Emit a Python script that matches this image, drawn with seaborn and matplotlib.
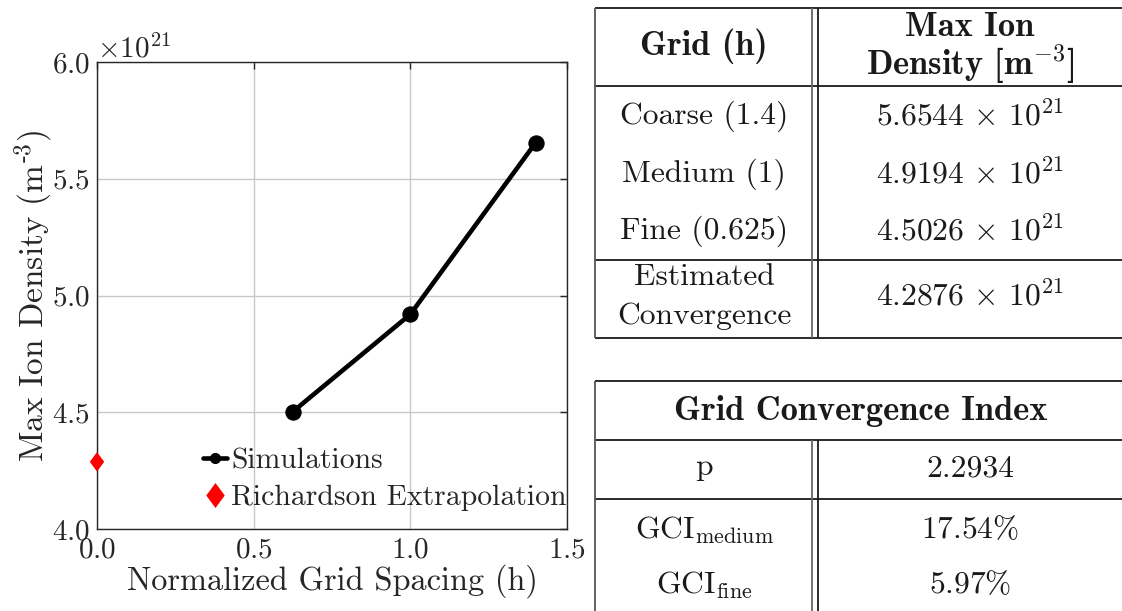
import matplotlib
matplotlib.use("Agg")
import matplotlib.pyplot as plt
from matplotlib.lines import Line2D
from matplotlib.path import Path
import seaborn as sns
import pandas as pd

# Grid study results
grid_names = ["Coarse (1.4)", "Medium (1)", "Fine (0.625)"]
grid_h = [1.4, 1.0, 0.625]
max_ion_density = [5.6544e21, 4.9194e21, 4.5026e21]

# Richardson extrapolation (h -> 0)
extrap_h = [0.0]
extrap_density = [4.2876e21]

# Grid convergence index
order_p = 2.2934
gci_medium = 17.54
gci_fine = 5.97

sns.set_style("white")
plt.rcParams["font.family"] = ["cmr10"]
plt.rcParams["mathtext.fontset"] = "cm"
plt.rcParams["axes.formatter.use_mathtext"] = True
plt.rcParams["axes.unicode_minus"] = False

FS_TICK = 21
FS_LABEL = 23.3
FS_YLABEL = 24
FS_LEG = 21.4
FS_TAB = 22.7
FS_BOLD = 24.8
DARK = "#262626"

fig = plt.figure(figsize=(11.22, 6.11), dpi=100)
ax = fig.add_axes([97 / 1122, (611 - 529) / 611, 470 / 1122, 467 / 611])

sim = pd.DataFrame({"h": grid_h, "n": max_ion_density})
sns.lineplot(data=sim, x="h", y="n", ax=ax, color="black", lw=3.3,
             marker="o", markersize=11, markeredgecolor="black", sort=True)

diamond = Path([(0, 1), (0.74, 0), (0, -1), (-0.74, 0), (0, 1)],
               [Path.MOVETO, Path.LINETO, Path.LINETO, Path.LINETO, Path.CLOSEPOLY])
ext = pd.DataFrame({"h": extrap_h, "n": extrap_density})
sns.scatterplot(data=ext, x="h", y="n", ax=ax, color="red", marker=diamond,
                s=14 ** 2, edgecolor="none", clip_on=False, zorder=5)

ax.set_xlim(0, 1.5)
ax.set_ylim(4.0e21, 6.0e21)
ax.set_xticks([0, 0.5, 1.0, 1.5])
ax.set_yticks([4.0e21, 4.5e21, 5.0e21, 5.5e21, 6.0e21])
ax.grid(True, color="#c8c8c8", lw=1)
ax.set_axisbelow(True)
for s in ax.spines.values():
    s.set_color(DARK)
    s.set_linewidth(1.0)
ax.tick_params(direction="in", length=5, width=1, color=DARK, labelcolor=DARK,
               labelsize=FS_TICK, top=True, right=True)
ax.tick_params(axis="x", pad=6)
ax.tick_params(axis="y", pad=5)
ax.yaxis.get_offset_text().set_fontsize(FS_TICK)
ax.yaxis.get_offset_text().set_color(DARK)
ax.set_xlabel("Normalized Grid Spacing (h)", fontsize=FS_LABEL, color=DARK, labelpad=0)
ax.set_ylabel(r"Max Ion Density (m$^{\text{-3}}$)", fontsize=FS_YLABEL, color=DARK, labelpad=-2)

handles = [
    Line2D([], [], color="black", lw=3.3, marker="o", markersize=7),
    Line2D([], [], color="red", ls="none", marker=diamond, markersize=18, markeredgecolor="none"),
]
ax.legend(handles, ["Simulations", "Richardson Extrapolation"], loc="upper left",
          bbox_to_anchor=((203 - 97) / 470, (529 - 448) / 467), frameon=False,
          fontsize=FS_LEG, handlelength=0.8, handletextpad=0.15, labelspacing=0.32,
          borderpad=0, borderaxespad=0)

# Tables drawn on a pixel-space overlay
tab = fig.add_axes([0, 0, 1, 1])
tab.set_xlim(0, 1122)
tab.set_ylim(611, 0)
tab.axis("off")
LC = "#1a1a1a"
lw = 1.3


def hline(y, x0=595, x1=1122, c=LC):
    tab.plot([x0, x1], [y, y], color=c, lw=lw, solid_capstyle="butt")


def vline(x, y0, y1, c=LC):
    tab.plot([x, x], [y0, y1], color=c, lw=lw, solid_capstyle="butt")


def cell(x, y, s, bold=False):
    tab.text(x, y, s, family="cmb10" if bold else "cmr10",
             fontsize=FS_BOLD if bold else FS_TAB, ha="center", va="center", color=LC)


# Results table
for y in (7.5, 85.5, 259.5, 337.5):
    hline(y)
vline(595, 7.5, 337.5, c="#555555")
vline(812.5, 7.5, 337.5, c="#666666")
vline(818.5, 7.5, 337.5)

c1, c2 = 704, 970
cell(c1, 46, "Grid (h)", bold=True)
cell(c2, 27, "Max Ion", bold=True)
cell(c2, 64, r"Density [m$^{-3}$]", bold=True)
row_y = [116, 174, 231]
for name, val, y in zip(grid_names, max_ion_density, row_y):
    cell(c1, y, name)
    cell(c2, y, rf"${val / 1e21:.4f}\,\times\,10^{{21}}$")
cell(c1, 277, "Estimated")
cell(c1, 316, "Convergence")
cell(c2, 296, rf"${extrap_density[0] / 1e21:.4f}\,\times\,10^{{21}}$")

# GCI table
for y in (380.5, 439.5, 498.5):
    hline(y)
vline(595, 380.5, 611, c="#555555")
vline(812.5, 439.5, 611, c="#666666")
vline(818.5, 439.5, 611)
cell(861, 411, "Grid Convergence Index", bold=True)
cell(c1, 467, "p")
cell(c2, 469, f"{order_p:.4f}")
cell(c1, 530, r"GCI$_{\mathrm{medium}}$")
cell(c2, 530, rf"${gci_medium:.2f}\%$")
cell(c1, 585, r"GCI$_{\mathrm{fine}}$")
cell(c2, 585, rf"${gci_fine:.2f}\%$")

fig.savefig("out.png", dpi=100)
